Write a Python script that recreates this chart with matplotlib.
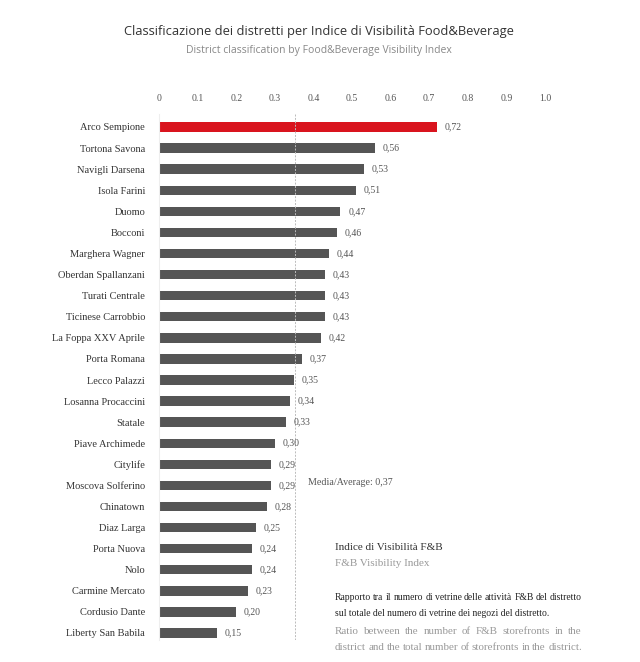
import matplotlib.pyplot as plt

# Data
districts = ["Arco Sempione", "Tortona Savona", "Navigli Darsena", "Isola Farini",
             "Duomo", "Bocconi", "Marghera Wagner", "Oberdan Spallanzani",
             "Turati Centrale", "Ticinese Carrobbio", "La Foppa XXV Aprile",
             "Porta Romana", "Lecco Palazzi", "Losanna Procaccini", "Statale",
             "Piave Archimede", "Citylife", "Moscova Solferino", "Chinatown",
             "Diaz Larga", "Porta Nuova", "Nolo", "Carmine Mercato",
             "Cordusio Dante", "Liberty San Babila"]
values = [0.72, 0.56, 0.53, 0.51, 0.47, 0.46, 0.44, 0.43, 0.43, 0.43, 0.42,
          0.37, 0.35, 0.34, 0.33, 0.30, 0.29, 0.29, 0.28, 0.25, 0.24, 0.24,
          0.23, 0.20, 0.15]
average_label = 0.37
average_line = 0.352  # where the dashed line is drawn in the original
xticks = [0, 0.1, 0.2, 0.3, 0.4, 0.5, 0.6, 0.7, 0.8, 0.9, 1.0]

W, H = 640, 662
fig = plt.figure(figsize=(W / 100, H / 100), dpi=100)

# axes: x=0 at px 159, x=1 at px 545; first bar y=127, last y=633
top_px, bot_px = 114, 640
ax = fig.add_axes([159 / W, 1 - bot_px / H, 386 / W, (bot_px - top_px) / H])
n = len(values)
step = (633 - 127) / (n - 1)
ax.set_xlim(0, 1)
ax.set_ylim(n - 1 + (bot_px - 633) / step, -(127 - top_px) / step)

colors = ["#d9141e"] + ["#555555"] * (n - 1)
ax.barh(range(n), values, height=0.45, color=colors)

for i, v in enumerate(values):
    ax.text(v + 0.02, i, f"{v:.2f}".replace(".", ","), va="center", ha="left",
            fontsize=7, color="#555555", family="Liberation Serif")

ax.axvline(average_line, color="#bbbbbb", lw=0.7, ls=(0, (2, 1.5)))
ax.text(0.385, 16.85, f"Media/Average: {average_label:.2f}".replace(".", ","),
        fontsize=7.2, color="#555555", family="Liberation Serif", va="center")

ax.set_yticks(range(n))
ax.set_yticklabels(districts, family="Liberation Serif", fontsize=7.5, color="#333333")
ax.tick_params(axis="y", length=0, pad=10)
ax.xaxis.tick_top()
ax.set_xticks(xticks)
ax.set_xticklabels([f"{t:g}" if t != 1.0 else "1.0" for t in xticks],
                   family="Liberation Serif", fontsize=7, color="#555555")
ax.tick_params(axis="x", length=0, pad=8)
for s in ["top", "right", "bottom"]:
    ax.spines[s].set_visible(False)
ax.spines["left"].set_color("#eeeeee")
ax.spines["left"].set_linewidth(0.8)

# Titles
fig.text(319 / W, 1 - 32 / H, "Classificazione dei distretti per Indice di Visibilità Food&Beverage",
         ha="center", va="center", fontsize=9.3, color="#333333", family="Open Sans")
fig.text(319 / W, 1 - 50 / H, "District classification by Food&Beverage Visibility Index",
         ha="center", va="center", fontsize=7.5, color="#888888", family="Open Sans")

# Note block
fig.text(335 / W, 1 - 548 / H, "Indice di Visibilità F&B", fontsize=8,
         color="#333333", family="Liberation Serif", va="center")
fig.text(335 / W, 1 - 564 / H, "F&B Visibility Index", fontsize=8,
         color="#999999", family="Liberation Serif", va="center")

renderer = fig.canvas.get_renderer()


def justified(line, y_px, color, size, x0=335, x1=582):
    words = line.split()
    texts = [fig.text(0, 1 - y_px / H, w, fontsize=size, color=color,
                      family="Liberation Serif", va="center") for w in words]
    widths = [t.get_window_extent(renderer).width for t in texts]
    gap = (x1 - x0 - sum(widths)) / (len(words) - 1)
    x = x0
    for t, w in zip(texts, widths):
        t.set_x(x / W)
        x += w + gap


justified("Rapporto tra il numero di vetrine delle attività F&B del distretto", 597, "#222222", 6.9)
fig.text(335 / W, 1 - 614 / H, "sul totale del numero di vetrine dei negozi del distretto.",
         fontsize=6.9, color="#222222", family="Liberation Serif", va="center")
justified("Ratio between the number of F&B storefronts in the", 631, "#999999", 7.9)
justified("district and the total number of storefronts in the district.", 647, "#999999", 7.9)

fig.savefig("out.png", dpi=100, facecolor="white")
